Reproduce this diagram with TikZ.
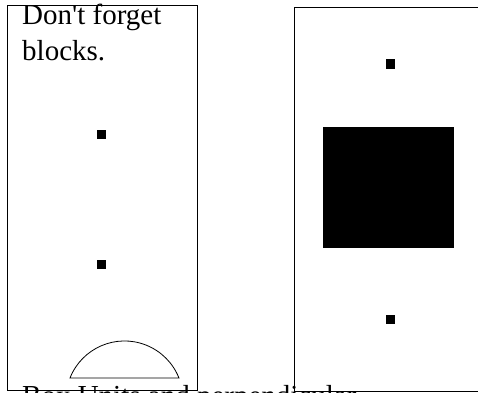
\documentclass[tikz,border=0pt]{standalone}
\usepackage{fontspec}
\setmainfont{Liberation Serif}[Ligatures=TeXOff]
\tikzset{
  frame/.style={draw=black, line width=1pt},
  dot/.style={fill=black},
  label/.style={inner sep=0pt, anchor=base west, font=\fontsize{29}{35}\selectfont, align=left},
}
\begin{document}
\begin{tikzpicture}[x=1pt,y=1pt]
\useasboundingbox (0,0) rectangle (478,392);
\clip (0,0) rectangle (478,392);
% frames
\draw[frame] (7,2) rectangle (197,386);
\draw[frame] (294,1) rectangle (490,384);
% small squares
\fill[dot] (97,253) rectangle (106,262);
\fill[dot] (97,123) rectangle (106,132);
\fill[dot] (386,323) rectangle (395,333);
\fill[dot] (386,68) rectangle (395,77);
% big square
\fill[dot] (323,144) rectangle (454,265);
% arc segment
\draw[line width=0.8pt] (70,14) arc[start angle=158.4, end angle=21.6, radius=58.6] -- cycle;
% texts
\node[label] (t1) at (22,367) {Don't forget};
\node[label] (t2) at (22,332) {blocks.};
\node[label] (t3) at (22,-13) {Box Units and perpendicular};
\end{tikzpicture}
\end{document}
